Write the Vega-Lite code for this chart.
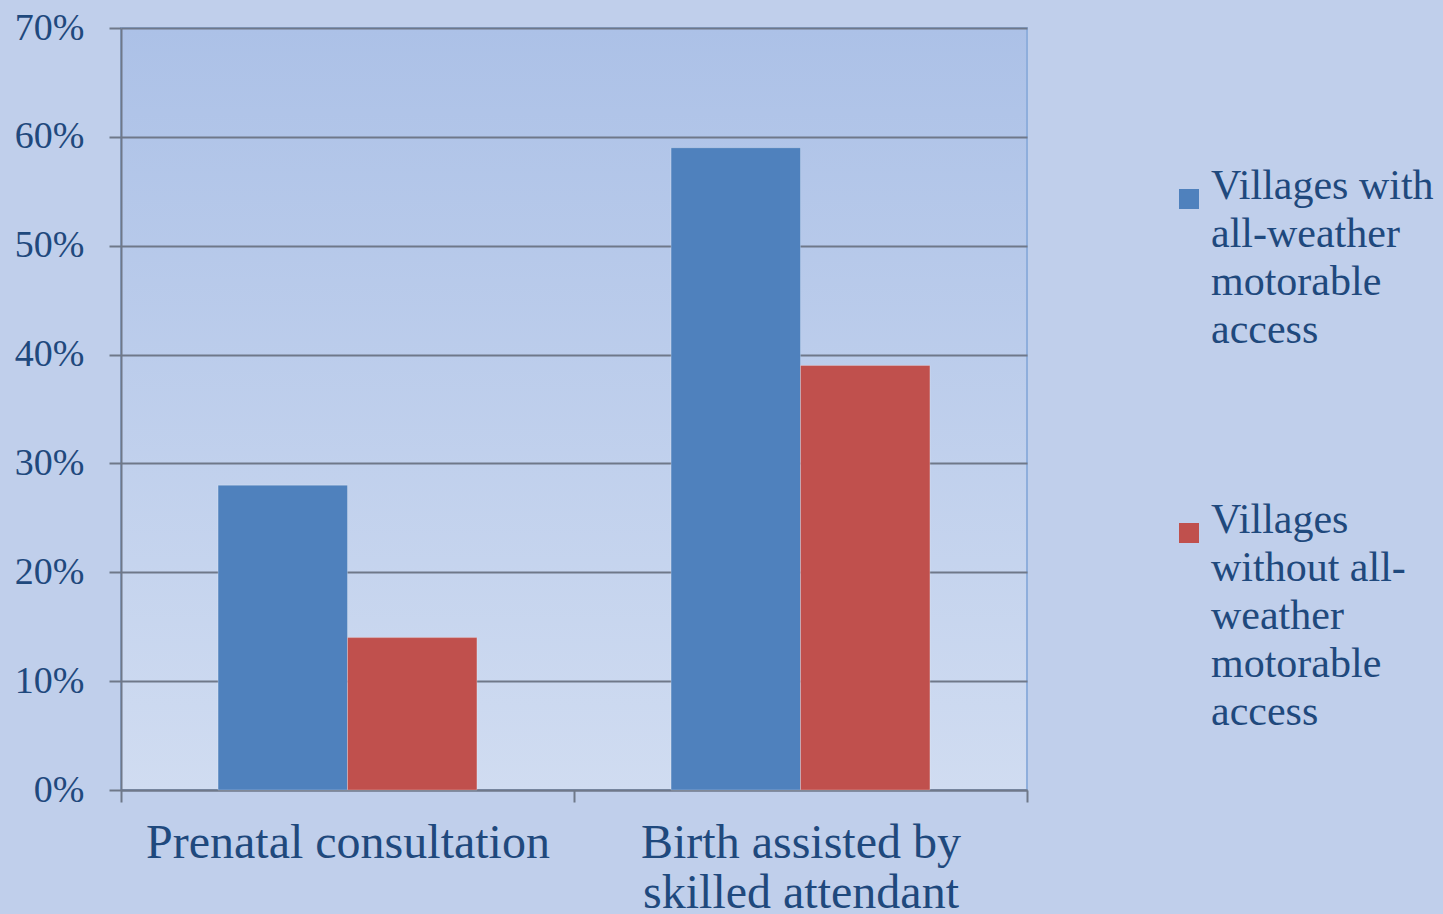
{
  "$schema": "https://vega.github.io/schema/vega-lite/v6.json",
  "width": 906,
  "height": 762,
  "autosize": {"type": "none"},
  "padding": {"left": 121, "top": 28, "right": 416, "bottom": 124},
  "background": "#c0cfeb",
  "config": {
    "view": {"fill": {"gradient": "linear", "x1": 0, "y1": 0, "x2": 0, "y2": 1, "stops": [{"offset": 0, "color": "#acc1e7"}, {"offset": 1, "color": "#d0dcf1"}]}, "stroke": "#8eaedc", "strokeWidth": 2},
    "font": "Liberation Serif",
    "style": {"guide-label": {"lineHeight": 48}}
  },
  "data": {
    "values": [
      {"indicator": "Prenatal consultation", "access": "Villages with\nall-weather\nmotorable\naccess", "share": 0.28},
      {"indicator": "Prenatal consultation", "access": "Villages\nwithout all-\nweather\nmotorable\naccess", "share": 0.14},
      {"indicator": "Birth assisted by\nskilled attendant", "access": "Villages with\nall-weather\nmotorable\naccess", "share": 0.59},
      {"indicator": "Birth assisted by\nskilled attendant", "access": "Villages\nwithout all-\nweather\nmotorable\naccess", "share": 0.39}
    ]
  },
  "mark": {"type": "bar", "stroke": "#ffffff", "strokeOpacity": 0.25, "strokeWidth": 1},
  "encoding": {
    "x": {
      "field": "indicator", "type": "nominal", "sort": null, "title": null,
      "scale": {"paddingInner": 0, "paddingOuter": 0},
      "axis": {
        "labelExpr": "split(datum.label, '\\n')",
        "labelAngle": 0, "labelFontSize": 48, "labelColor": "#1f497d", "labelLineHeight": 50,
        "labelPadding": 17, "labelBaseline": "top", "labelLimit": 800,
        "tickBand": "extent", "tickSize": 12, "tickColor": "#6f7889", "tickWidth": 2,
        "domainColor": "#6f7889", "domainWidth": 2, "grid": false
      }
    },
    "xOffset": {
      "field": "access", "type": "nominal", "sort": null,
      "scale": {"paddingInner": 0, "paddingOuter": 0.75}
    },
    "y": {
      "field": "share", "type": "quantitative", "title": null,
      "scale": {"domain": [0, 0.7], "nice": false},
      "axis": {
        "values": [0, 0.1, 0.2, 0.3, 0.4, 0.5, 0.6, 0.7], "format": ".0%",
        "labelFontSize": 38, "labelColor": "#1f497d", "labelPadding": 25,
        "tickSize": 12, "tickColor": "#6f7889", "tickWidth": 2,
        "domainColor": "#6f7889", "domainWidth": 2,
        "grid": true, "gridColor": "#6f7889", "gridWidth": 2
      }
    },
    "color": {
      "field": "access", "type": "nominal", "sort": null, "title": null,
      "scale": {"range": ["#4f81bd", "#c0504d"]},
      "legend": {
        "orient": "none", "legendX": 1047, "legendY": 150,
        "labelExpr": "split(datum.label, '\\n')",
        "labelFontSize": 42, "labelColor": "#1f497d",
        "labelLimit": 400, "labelOffset": 1, "labelBaseline": "alphabetic",
        "symbolType": "square", "symbolSize": 400, "symbolStrokeWidth": 0, "symbolOpacity": 1,
        "rowPadding": 148, "padding": 0
      }
    }
  }
}
